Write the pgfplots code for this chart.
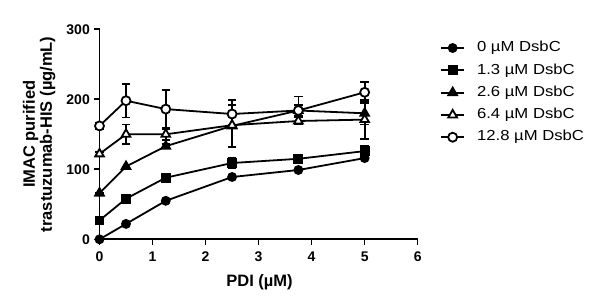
\documentclass[border=0pt]{standalone}
\usepackage{fontspec}
\setmainfont{Liberation Sans}
\newfontfamily\legfont[FakeStretch=1.15]{Liberation Sans}
\usepackage{pgfplots}
\pgfplotsset{compat=1.18}
\begin{document}
\begin{tikzpicture}
\useasboundingbox (0,0) rectangle (600pt,308pt);
\begin{axis}[
  at={(99.5pt,68.7pt)}, anchor=south west,
  scale only axis, width=318.2pt, height=210pt,
  xmin=0, xmax=6, ymin=0, ymax=300,
  clip=false,
  axis x line=bottom, axis y line=left,
  axis line style={line width=1.8pt, -},
  xtick={0,1,2,3,4,5,6}, ytick={0,100,200,300},
  minor tick num=0,
  tick align=outside, major tick length=5.5pt,
  every tick/.style={line width=1.6pt, black},
  /pgf/number format/assume math mode=true,
  ticklabel style={font=\bfseries\fontsize{14}{14}\selectfont, inner sep=0pt},
  xticklabel style={anchor=north, yshift=-6.5pt},
  yticklabel style={anchor=east, xshift=-4pt},
  xlabel={PDI (µM)},
  xlabel style={font=\bfseries\fontsize{16.5}{17}\selectfont, at={(axis description cs:0.503,-0.226)}, anchor=base, inner sep=0pt},
  ylabel={IMAC purified\\trastuzumab-HIS (µg/mL)},
  ylabel style={font=\bfseries\fontsize{16.5}{17}\selectfont, align=center, at={(axis description cs:-0.19,0.5)}, rotate=0, anchor=center, inner sep=0pt},
  legend style={draw=none, fill=none, at={(axis description cs:1.071,0.943)}, anchor=north west,
    inner sep=0pt, outer sep=0pt, row sep=8.8pt, column sep=12pt,
    font=\legfont\fontsize{14.5}{15}\selectfont,
    nodes={inner sep=0pt, text height=10.5pt, text depth=3pt}},
  legend cell align=left,
  legend image code/.code={\draw[mark repeat=2,mark phase=2,#1] plot coordinates {(0pt,0pt) (11.5pt,0pt) (23pt,0pt)};},
  every axis plot/.append style={black, line width=1.8pt},
  error bars/error bar style={line width=1.7pt},
  error bars/error mark options={rotate=90, mark size=4.2pt, line width=1.7pt},
]
\addplot[mark=*, mark size=4pt, mark options={solid, fill=black}]
  coordinates {(0,0) (0.5,22) (1.25,55) (2.5,89) (3.75,99) (5,116)};
\addlegendentry{0 µM DsbC}
\addplot[mark=square*, mark size=4pt, mark options={solid, fill=black},
  error bars/.cd, y dir=both, y explicit]
  coordinates {(0,27) +- (0,0) (0.5,58) +- (0,0) (1.25,88) +- (0,0) (2.5,109) +- (0,8) (3.75,115) +- (0,6) (5,126) +- (0,8)};
\addlegendentry{1.3 µM DsbC}
\addplot[mark=triangle*, mark size=5pt, mark options={solid, fill=black},
  error bars/.cd, y dir=both, y explicit]
  coordinates {(0,66) +- (0,0) (0.5,104) +- (0,0) (1.25,133) +- (0,3) (2.5,162) +- (0,30) (3.75,184) +- (0,8) (5,180) +- (0,16)};
\addlegendentry{2.6 µM DsbC}
\addplot[mark=triangle*, mark size=5pt, mark options={solid, fill=white, draw=black},
  error bars/.cd, y dir=both, y explicit]
  coordinates {(0,122) +- (0,3) (0.5,150) +- (0,14) (1.25,150) +- (0,8) (2.5,163) +- (0,0) (3.75,169) +- (0,5) (5,171) +- (0,28)};
\addlegendentry{6.4 µM DsbC}
\addplot[mark=*, mark size=4.5pt, mark options={solid, fill=white, draw=black},
  error bars/.cd, y dir=both, y explicit]
  coordinates {(0,162) +- (0,4) (0.5,198) +- (0,24) (1.25,186) +- (0,27) (2.5,179) +- (0,20) (3.75,184) +- (0,20) (5,210) +- (0,15)};
\addlegendentry{12.8 µM DsbC}
\end{axis}
\end{tikzpicture}
\end{document}
